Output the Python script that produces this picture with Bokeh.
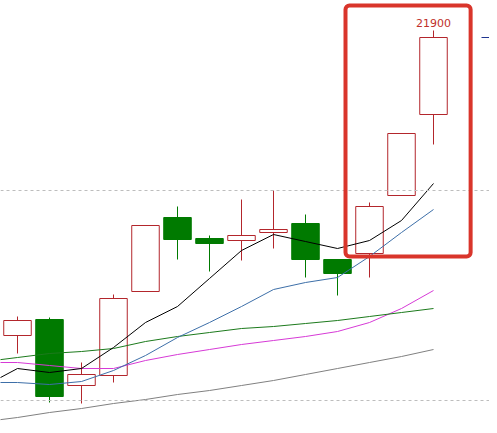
from bokeh.plotting import figure
from bokeh.models import Range1d, Span, BoxAnnotation, Label, ColumnDataSource
from bokeh.embed import file_html
from bokeh.resources import INLINE

# ---- data (prices) ----
idx = list(range(14))
opens  = [18850, 19010, 18350, 18450, 19290, 20030, 19820, 19800, 19880, 19970, 19610, 19670, 20250, 21060]
closes = [19000, 18240, 18460, 19220, 19950, 19810, 19770, 19850, 19910, 19610, 19470, 20140, 20870, 21830]
highs  = [19040, 19030, 18580, 19260, 19950, 20140, 19850, 20210, 20300, 20060, 19610, 20180, 20870, 21900]
lows   = [18670, 18180, 18170, 18380, 19290, 19610, 19490, 19600, 19720, 19430, 19250, 19430, 20250, 20760]

ma_idx = list(range(-1, 14))
ma5  = [18350, 18520, 18480, 18520, 18730, 18980, 19140, 19420, 19700, 19860, 19790, 19720, 19800, 20000, 20370]
ma10 = [18380, 18380, 18360, 18390, 18500, 18650, 18830, 18980, 19140, 19310, 19380, 19430, 19640, 19880, 20110]
ma20 = [18590, 18630, 18670, 18690, 18720, 18790, 18840, 18880, 18920, 18940, 18970, 19000, 19040, 19080, 19120]
ma30 = [18580, 18580, 18550, 18520, 18520, 18600, 18660, 18710, 18760, 18800, 18840, 18890, 18980, 19120, 19300]
ma60 = [17990, 18030, 18080, 18120, 18170, 18210, 18260, 18300, 18350, 18400, 18460, 18520, 18580, 18640, 18710]

grid_levels = [20300, 18200]
highlight = dict(left=10.25, right=14.16, bottom=19640, top=22150)

RED = "#b3262c"
GREEN = "#007a00"

p = figure(width=489, height=425, output_backend="svg", toolbar_location=None,
           x_axis_type=None, y_axis_type=None,
           x_range=Range1d(-0.53125, 14.75), y_range=Range1d(17950, 22200),
           min_border=0, background_fill_color="white", border_fill_color="white")
p.outline_line_color = None
p.grid.visible = False

for g in grid_levels:
    p.add_layout(Span(location=g, dimension="width", line_color="#bdbdbd",
                      line_width=1, line_dash="3 3"))

up = [c >= o for o, c in zip(opens, closes)]
colors = [RED if u else GREEN for u in up]
fills = ["white" if u else GREEN for u in up]
src = ColumnDataSource(dict(x=idx, o=opens, c=closes, h=highs, l=lows,
                            top=[max(o, c) for o, c in zip(opens, closes)],
                            bot=[min(o, c) for o, c in zip(opens, closes)],
                            col=colors, fill=fills))

p.segment(x0="x", y0="h", x1="x", y1="l", line_color="col", line_width=1, source=src)
p.vbar(x="x", width=0.86, top="top", bottom="bot", fill_color="fill",
       line_color="col", line_width=1, source=src)

p.line(ma_idx, ma60, line_color="#808080", line_width=1)
p.line(ma_idx, ma30, line_color="#d63ad6", line_width=1)
p.line(ma_idx, ma20, line_color="#1c7a1c", line_width=1)
p.line(ma_idx, ma10, line_color="#3d6fa8", line_width=1)
p.line(ma_idx, ma5, line_color="#000000", line_width=1)

# last price marker on the right edge
p.segment(x0=[14.5], y0=[closes[-1]], x1=[14.75], y1=[closes[-1]],
          line_color="#1f3590", line_width=1)

p.add_layout(BoxAnnotation(left=highlight["left"], right=highlight["right"],
                           bottom=highlight["bottom"], top=highlight["top"],
                           fill_alpha=0, line_color="#d9352b", line_alpha=1.0,
                           line_width=4, border_radius=4))

imax = highs.index(max(highs))
p.add_layout(Label(x=idx[imax], y=highs[imax], text=str(highs[imax]), y_offset=4,
                   text_align="center", text_baseline="bottom",
                   text_font="DejaVu Sans", text_font_size="11px", text_color="#c0302a"))

open("out.html", "w").write(file_html(p, INLINE))
